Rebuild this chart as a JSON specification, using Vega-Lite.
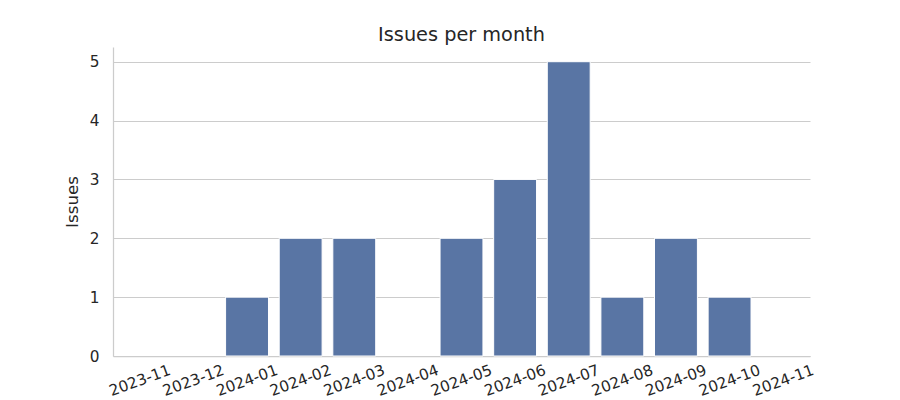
{
  "$schema": "https://vega.github.io/schema/vega-lite/v6.json",
  "width": 697,
  "height": 309,
  "autosize": {"type": "none"},
  "padding": {"left": 113, "top": 47, "right": 90, "bottom": 44},
  "background": "white",
  "title": {"text": "Issues per month", "fontSize": 19.3, "font": "DejaVu Sans", "fontWeight": "normal", "color": "#262626", "offset": 2, "anchor": "middle"},
  "config": {
    "view": {"stroke": null},
    "font": "DejaVu Sans",
    "axis": {"domainColor": "#cccccc", "domainWidth": 1.25, "gridColor": "#cccccc", "gridWidth": 1, "ticks": false, "labelColor": "#262626", "titleColor": "#262626", "labelFont": "DejaVu Sans", "titleFont": "DejaVu Sans", "labelFontSize": 15.3, "titleFontSize": 16.7, "titleFontWeight": "normal"}
  },
  "data": {"values": [
    {"month": "2023-11", "issues": 0},
    {"month": "2023-12", "issues": 0},
    {"month": "2024-01", "issues": 1},
    {"month": "2024-02", "issues": 2},
    {"month": "2024-03", "issues": 2},
    {"month": "2024-04", "issues": 0},
    {"month": "2024-05", "issues": 2},
    {"month": "2024-06", "issues": 3},
    {"month": "2024-07", "issues": 5},
    {"month": "2024-08", "issues": 1},
    {"month": "2024-09", "issues": 2},
    {"month": "2024-10", "issues": 1},
    {"month": "2024-11", "issues": 0}
  ]},
  "mark": {"type": "bar", "color": "#5975a4", "stroke": "white", "strokeWidth": 1},
  "encoding": {
    "x": {"field": "month", "type": "ordinal", "sort": null, "title": null,
      "scale": {"paddingInner": 0.2, "paddingOuter": 0.1},
      "axis": {"labelAngle": -20, "labelAlign": "center", "labelBaseline": "middle", "labelPadding": 24, "grid": false}},
    "y": {"field": "issues", "type": "quantitative", "title": "Issues",
      "scale": {"domain": [0, 5.25], "nice": false},
      "axis": {"values": [0, 1, 2, 3, 4, 5], "labelPadding": 14, "titlePadding": 8, "grid": true}},
    "strokeOpacity": {"condition": {"test": "datum.issues == 0", "value": 0}, "value": 1}
  }
}
